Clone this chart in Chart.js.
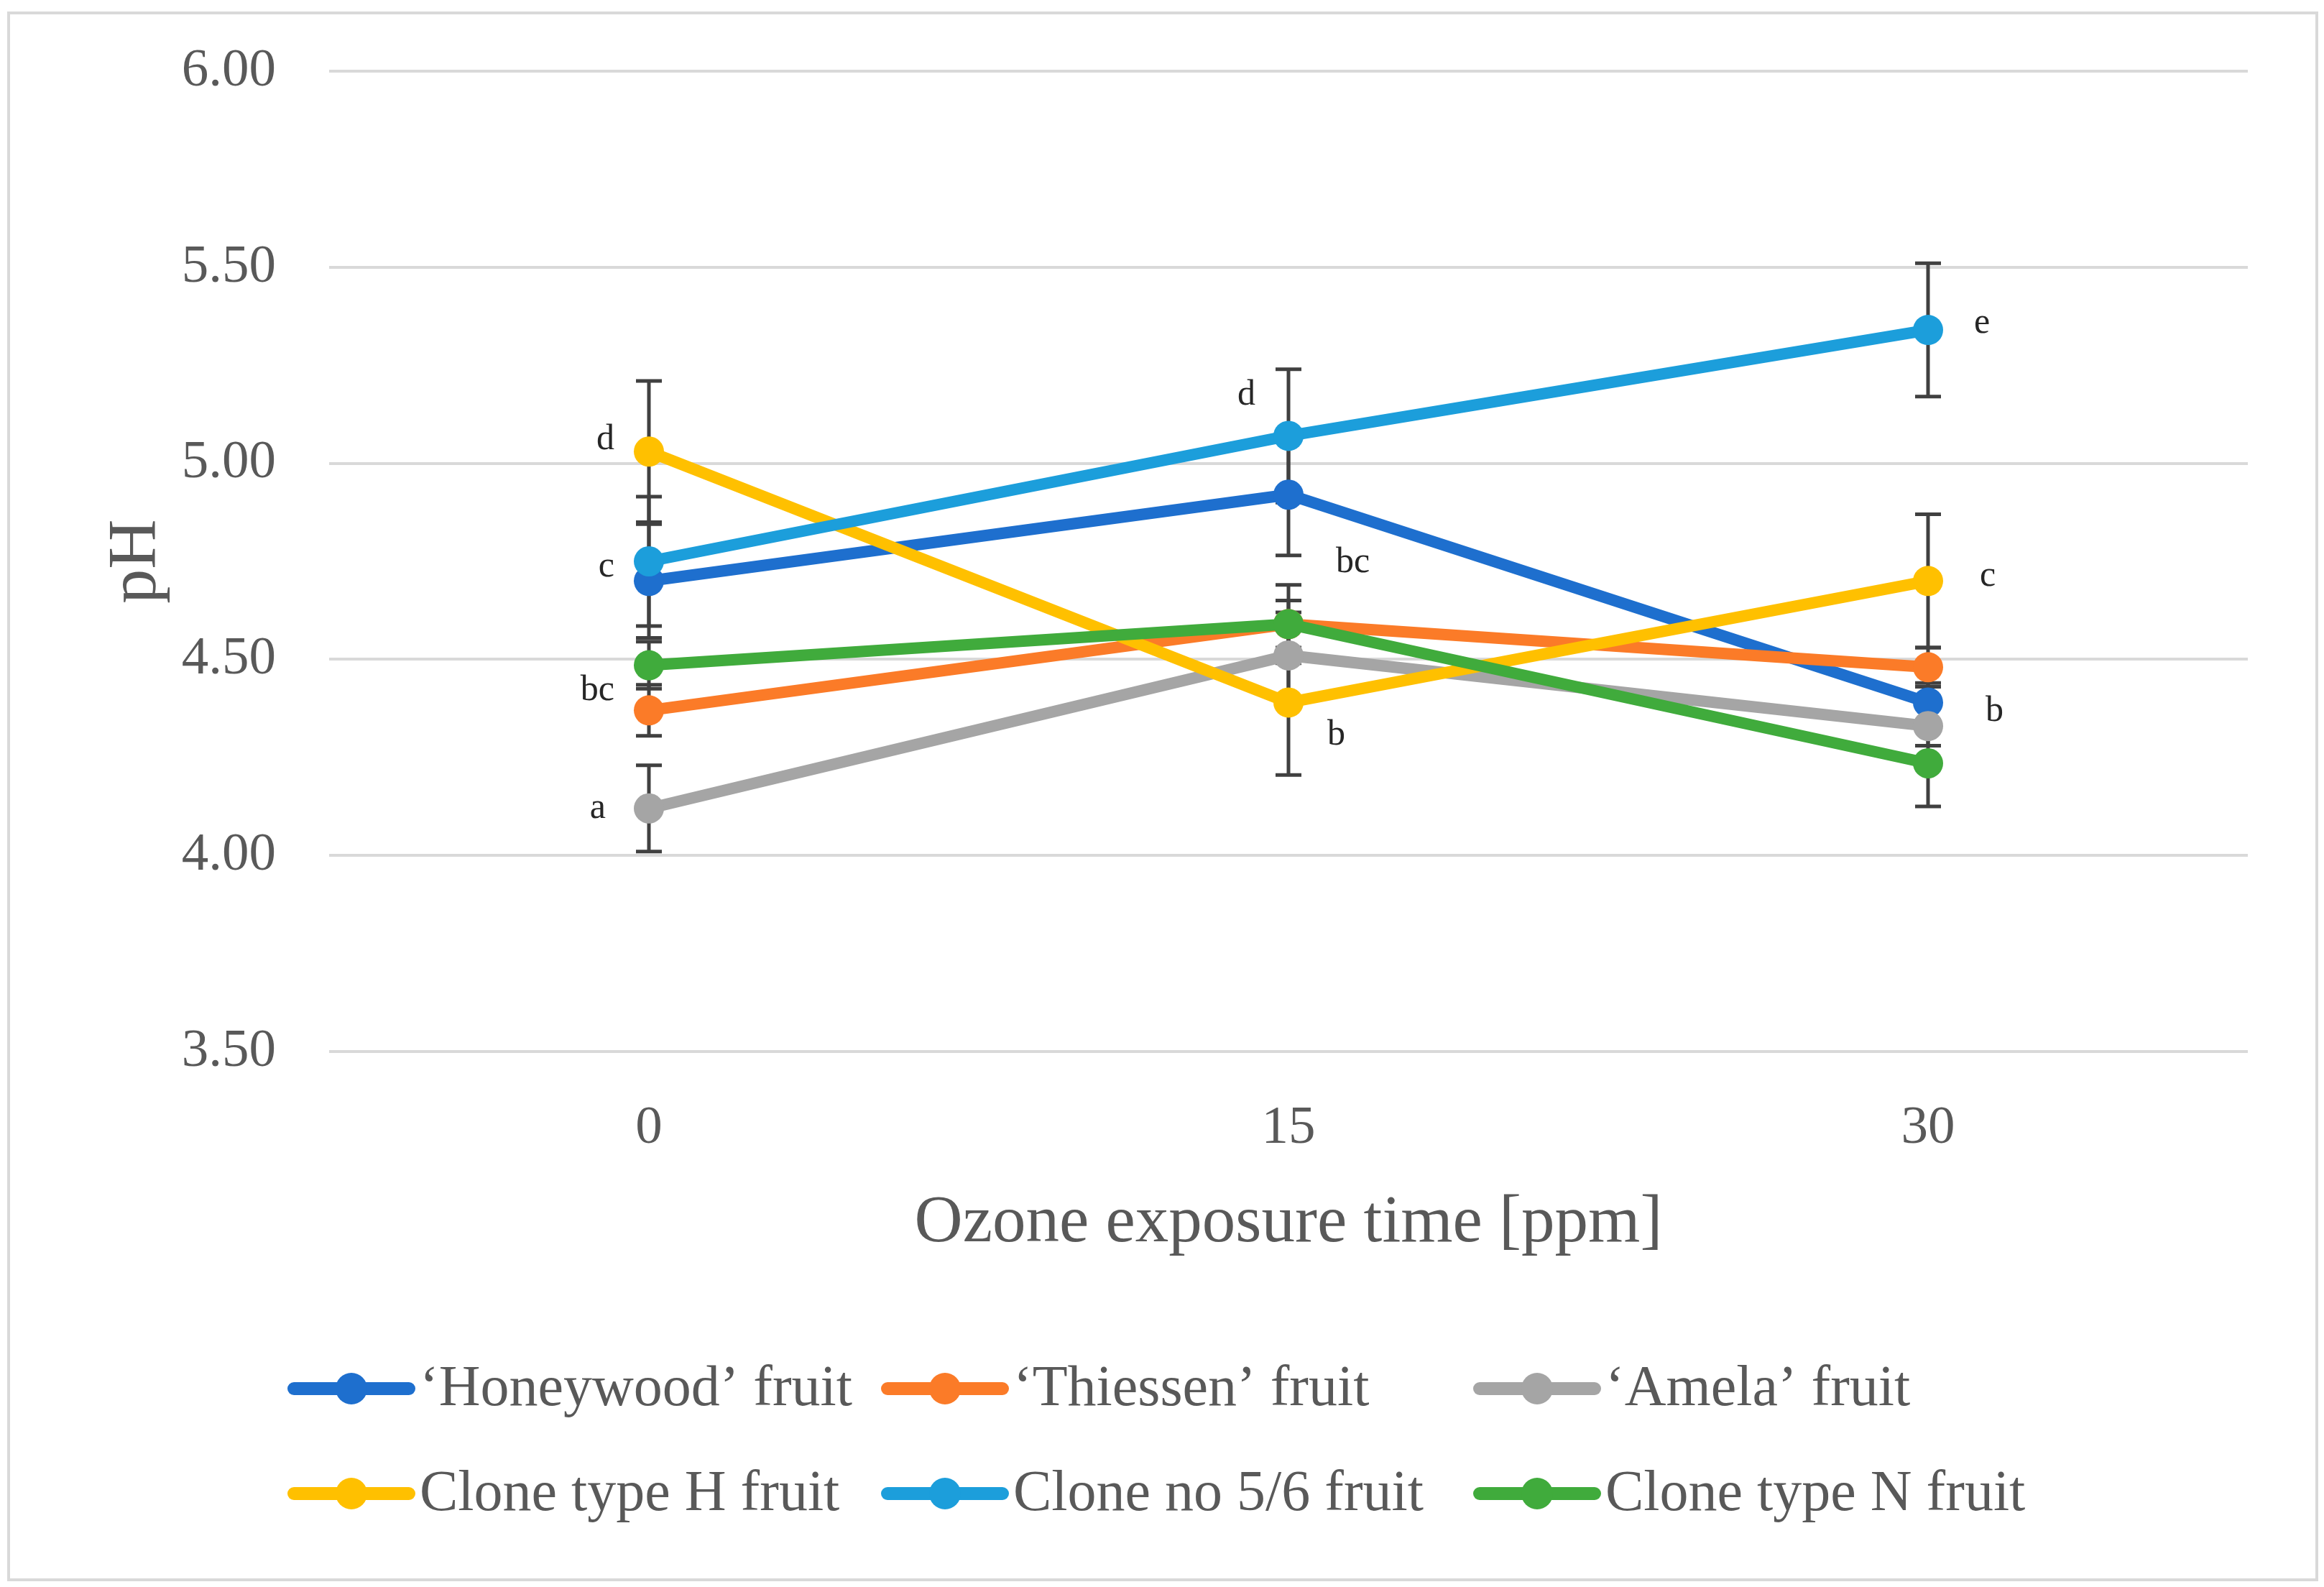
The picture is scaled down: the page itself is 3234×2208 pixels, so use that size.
<!DOCTYPE html>
<html>
<head>
<meta charset="utf-8">
<title>pH vs ozone exposure</title>
<script src="https://cdn.jsdelivr.net/npm/chart.js@4.4.1/dist/chart.umd.min.js"></script>
<style>
    html, body { margin: 0; padding: 0; background: #fff; overflow: hidden; }
    #wrap { position: relative; width: 3234px; height: 2208px; }
</style>
</head>
<body>
<div id="wrap"><canvas id="chart"></canvas></div>
<script>
// Data
const categories = ['0', '15', '30'];
const yTicks = [3.5, 4.0, 4.5, 5.0, 5.5, 6.0];

const seriesNames = ['\u2018Honeywood\u2019 fruit', '\u2018Thiessen\u2019 fruit', '\u2018Amela\u2019 fruit',
    'Clone type H fruit', 'Clone no 5/6 fruit', 'Clone type N fruit'];

const honeywood = [4.70, 4.92, 4.39];
const thiessen = [4.37, 4.59, 4.48];
const amela = [4.12, 4.51, 4.33];
const cloneH = [5.03, 4.39, 4.70];
const clone56 = [4.75, 5.07, 5.34];
const cloneN = [4.485, 4.59, 4.235];

const honeywoodErr = [0.145, 0.155, 0.05];
const thiessenErr = [0.065, 0.06, 0.05];
const amelaErr = [0.11, 0.11, 0.05];
const cloneHErr = [0.18, 0.185, 0.17];
const clone56Err = [0.165, 0.17, 0.17];
const cloneNErr = [0.06, 0.10, 0.11];

// significance letters: category index, y value, text
const letterCat = [0, 0, 0, 0, 1, 1, 1, 2, 2, 2];
const letterY = [5.06, 4.735, 4.42, 4.12, 5.174, 4.746, 4.307, 5.356, 4.712, 4.367];
const letterText = ['d', 'c', 'bc', 'a', 'd', 'bc', 'b', 'e', 'c', 'b'];

const colors = ['#1e6fce', '#fb7b28', '#a5a5a5', '#ffc000', '#1c9edb', '#40ab3c'];
const values = [honeywood, thiessen, amela, cloneH, clone56, cloneN];
const errors = [honeywoodErr, thiessenErr, amelaErr, cloneHErr, clone56Err, cloneNErr];

const serif = "'Liberation Serif', 'DejaVu Serif', serif";
const textGray = '#595959';

// pixel offsets of the letters from their point column
const letterDx = [-48, -48, -48, -60, -46, 66, 54, 64, 72, 80];

const datasets = values.map((v, i) => ({
    label: seriesNames[i],
    data: v,
    borderColor: colors[i],
    backgroundColor: colors[i],
    borderWidth: 16,
    pointRadius: 21,
    pointHoverRadius: 21,
    pointBorderWidth: 0,
    tension: 0,
    fill: false,
    order: 6 - i   // later series on top, like the original
}));

const frame = {
    id: 'frame',
    beforeDraw(chart) {
        const ctx = chart.ctx;
        ctx.save();
        ctx.fillStyle = '#fff';
        ctx.fillRect(0, 0, chart.width, chart.height);
        ctx.strokeStyle = '#d9d9d9';
        ctx.lineWidth = 4;
        ctx.strokeRect(12, 18, 3212, 2180);
        ctx.restore();
    }
};

const errorBars = {
    id: 'errorBars',
    beforeDatasetsDraw(chart) {
        const ctx = chart.ctx;
        const x = chart.scales.x, y = chart.scales.y;
        ctx.save();
        ctx.strokeStyle = '#404040';
        ctx.lineWidth = 5;
        errors.forEach((errs, i) => {
            errs.forEach((e, j) => {
                const px = x.getPixelForValue(j);
                const top = y.getPixelForValue(values[i][j] + e);
                const bot = y.getPixelForValue(values[i][j] - e);
                ctx.beginPath();
                ctx.moveTo(px, top); ctx.lineTo(px, bot);
                ctx.moveTo(px - 18, top); ctx.lineTo(px + 18, top);
                ctx.moveTo(px - 18, bot); ctx.lineTo(px + 18, bot);
                ctx.stroke();
            });
        });
        ctx.restore();
    }
};

const letters = {
    id: 'letters',
    afterDatasetsDraw(chart) {
        const ctx = chart.ctx;
        const x = chart.scales.x, y = chart.scales.y;
        ctx.save();
        ctx.fillStyle = '#262626';
        ctx.font = '50px ' + serif;
        ctx.textBaseline = 'middle';
        letterText.forEach((t, k) => {
            const dx = letterDx[k];
            ctx.textAlign = dx < 0 ? 'right' : 'left';
            ctx.fillText(t, x.getPixelForValue(letterCat[k]) + dx, y.getPixelForValue(letterY[k]));
        });
        ctx.restore();
    }
};

// legend in 2 rows x 3 columns, like the original
const gridLegend = {
    id: 'gridLegend',
    afterDraw(chart) {
        const ctx = chart.ctx;
        const cols = [400, 1226, 2050];
        const rows = [1932, 2078];
        ctx.save();
        ctx.font = '80px ' + serif;
        ctx.textBaseline = 'middle';
        ctx.textAlign = 'left';
        seriesNames.forEach((name, i) => {
            const lx = cols[i % 3], ly = rows[Math.floor(i / 3)];
            ctx.strokeStyle = colors[i];
            ctx.fillStyle = colors[i];
            ctx.lineWidth = 18;
            ctx.lineCap = 'round';
            ctx.beginPath();
            ctx.moveTo(lx + 9, ly); ctx.lineTo(lx + 169, ly);
            ctx.stroke();
            ctx.beginPath();
            ctx.arc(lx + 89, ly, 22, 0, Math.PI * 2);
            ctx.fill();
            ctx.fillStyle = textGray;
            ctx.fillText(name, lx + 184, ly + 2);
        });
        ctx.restore();
    }
};

new Chart(document.getElementById('chart'), {
    type: 'line',
    data: { labels: categories, datasets: datasets },
    plugins: [frame, errorBars, letters, gridLegend],
    options: {
        responsive: true,
        maintainAspectRatio: false,
        devicePixelRatio: 1,
        animation: false,
        layout: { padding: { left: 0, right: 106, top: 99, bottom: 450 } },
        plugins: {
            legend: { display: false },
            tooltip: { enabled: false }
        },
        scales: {
            x: {
                offset: true,
                afterFit(scale) { scale.height = 295; },
                grid: { display: false, drawTicks: false },
                border: { display: false },
                ticks: {
                    color: textGray,
                    font: { family: serif, size: 75 },
                    padding: 62,
                    maxRotation: 0,
                    autoSkip: false
                },
                title: {
                    display: true,
                    text: 'Ozone exposure time [ppm]',
                    color: textGray,
                    font: { family: serif, size: 93 },
                    padding: { top: 0, bottom: 0 }
                }
            },
            y: {
                min: 3.5,
                max: 6.0,
                afterFit(scale) {
                    scale.width = 458;
                    scale.paddingTop = 0;
                    scale.paddingBottom = 0;
                },
                afterBuildTicks(scale) { scale.ticks = yTicks.map(v => ({ value: v })); },
                grid: { color: '#d9d9d9', lineWidth: 4, drawTicks: false },
                border: { display: false },
                ticks: {
                    color: textGray,
                    font: { family: serif, size: 75 },
                    padding: 74,
                    callback: v => Number(v).toFixed(2)
                },
                title: {
                    display: true,
                    text: 'pH',
                    color: textGray,
                    font: { family: serif, size: 96 },
                    padding: { top: 133, bottom: 0 }
                }
            }
        }
    }
});
</script>
</body>
</html>
